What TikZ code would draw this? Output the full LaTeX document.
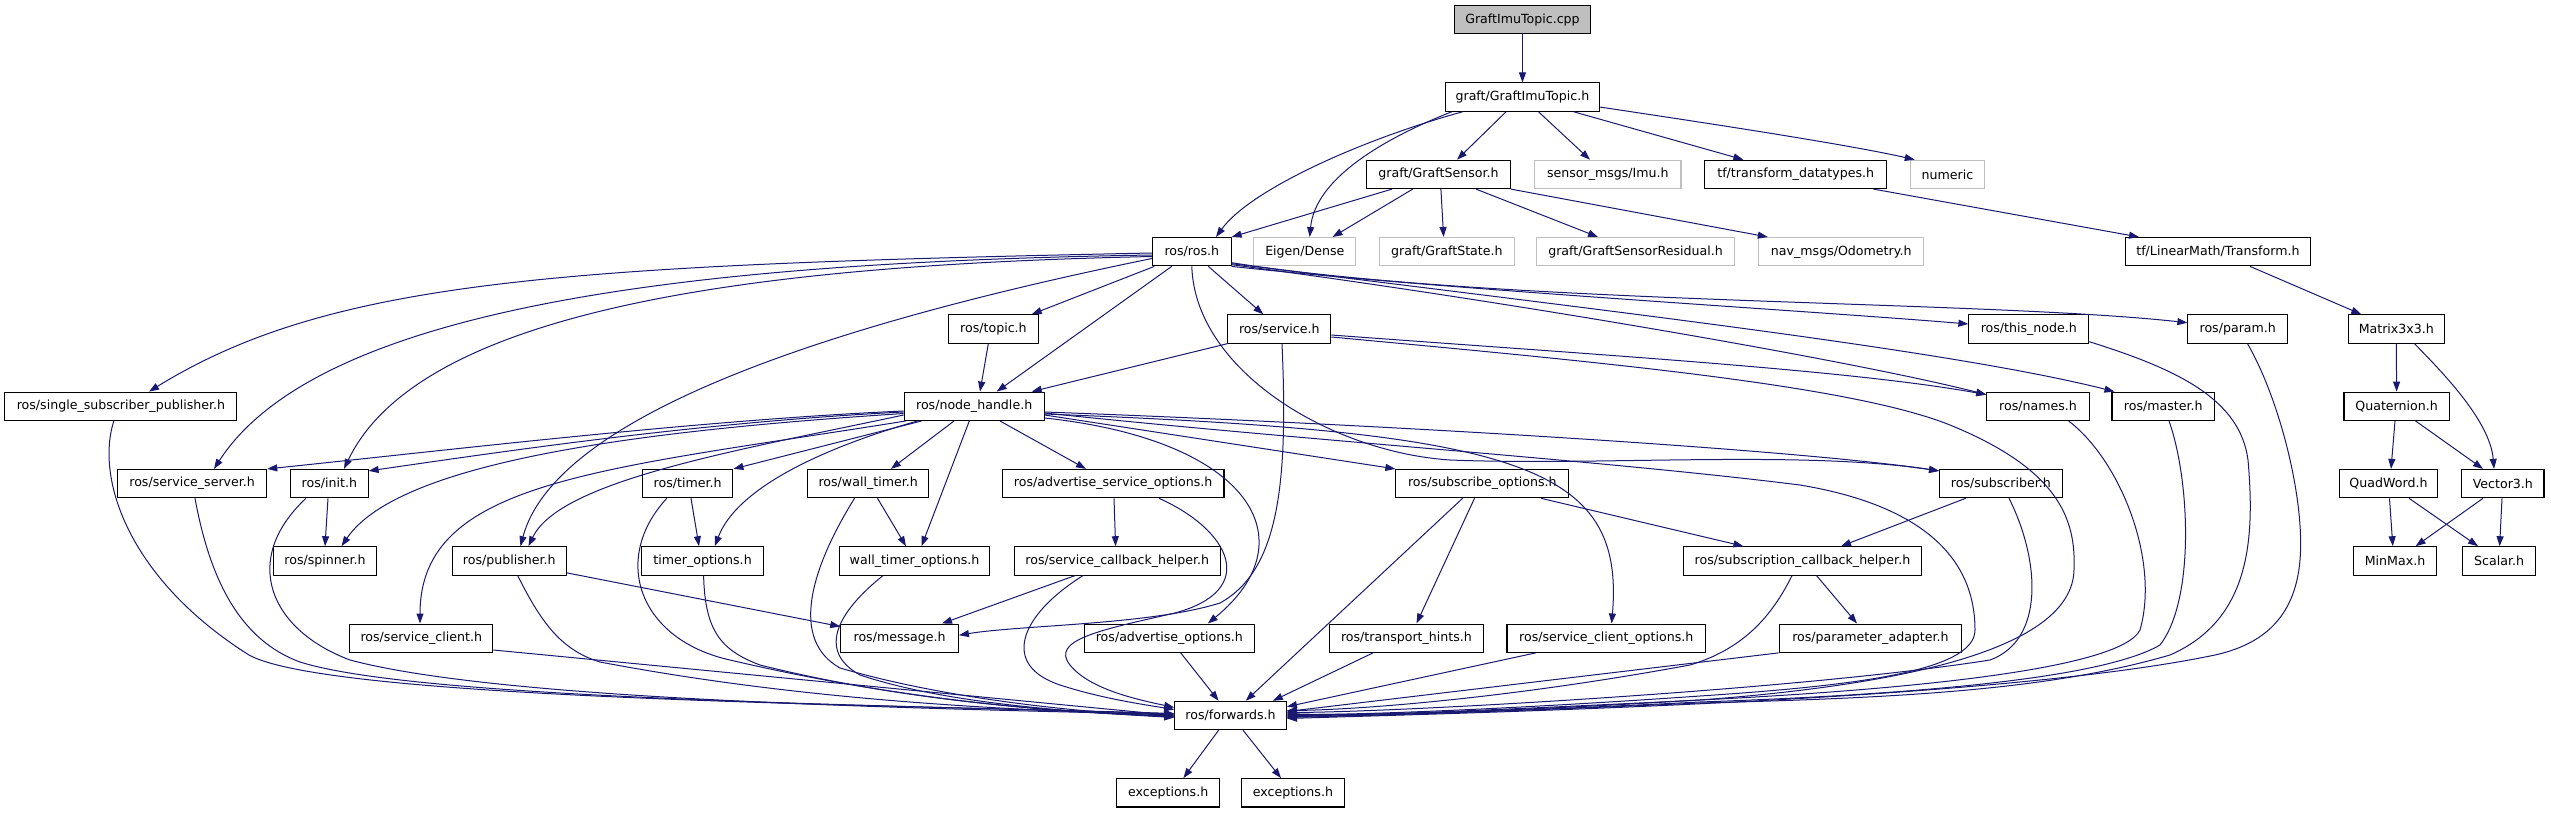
\documentclass[tikz,border=0pt]{standalone}
\usepackage{fontspec}
\setmainfont{DejaVu Sans}
\usetikzlibrary{arrows.meta}
\definecolor{edgec}{HTML}{191970}
\definecolor{greyl}{HTML}{BFBFBF}
\begin{document}
\begin{tikzpicture}[x=1pt,y=-1pt,
 nb/.style={draw=black,line width=1.1pt,fill=white,minimum height=28.3pt,inner sep=0pt,font=\fontsize{12.6}{15}\selectfont},
 gb/.style={nb,draw=greyl},
 e/.style={draw=edgec,line width=1pt,-{Triangle[length=10pt,width=7pt]}}]
\useasboundingbox[fill=white] (0,0) rectangle (2551,813);
% row 0
\node[nb,fill=greyl,minimum width=136.1pt] (cpp) at (1522.45,19.8) {GraftImuTopic.cpp};
% row 1
\node[nb,minimum width=154.5pt] (gith) at (1522.45,97.1) {graft/GraftImuTopic.h};
% row 2
\node[nb,minimum width=143.7pt] (gs) at (1438.45,174.4) {graft/GraftSensor.h};
\node[gb,minimum width=146.3pt] (imu) at (1607.85,174.4) {sensor\_msgs/Imu.h};
\node[nb,minimum width=181.6pt] (tfd) at (1795.7,174.4) {tf/transform\_datatypes.h};
\node[gb,minimum width=74.3pt] (num) at (1947.45,174.4) {numeric};
% row 3
\node[nb,minimum width=78.6pt] (ros) at (1191.8,251.7) {ros/ros.h};
\node[gb,minimum width=101.9pt] (eig) at (1304.85,251.7) {Eigen/Dense};
\node[gb,minimum width=134.5pt] (gst) at (1446.85,251.7) {graft/GraftState.h};
\node[gb,minimum width=197.4pt] (gsr) at (1635.5,251.7) {graft/GraftSensorResidual.h};
\node[gb,minimum width=165.4pt] (odo) at (1841.2,251.7) {nav\_msgs/Odometry.h};
\node[nb,minimum width=184.9pt] (tfm) at (2217.95,251.7) {tf/LinearMath/Transform.h};
% row 4
\node[nb,minimum width=89.4pt] (topic) at (993.4,329.0) {ros/topic.h};
\node[nb,minimum width=103pt] (srv) at (1279.3,329.0) {ros/service.h};
\node[nb,minimum width=119.8pt] (thisn) at (2028.8,329.0) {ros/this\_node.h};
\node[nb,minimum width=99.7pt] (param) at (2237.75,329.0) {ros/param.h};
\node[nb,minimum width=96pt] (m33) at (2396.3,329.0) {Matrix3x3.h};
% row 5
\node[nb,minimum width=232pt] (ssp) at (120.9,406.3) {ros/single\_subscriber\_publisher.h};
\node[nb,minimum width=139.9pt] (nh) at (974.15,406.3) {ros/node\_handle.h};
\node[nb,minimum width=102.4pt] (names) at (2038,406.3) {ros/names.h};
\node[nb,minimum width=102.5pt] (master) at (2163.25,406.3) {ros/master.h};
\node[nb,minimum width=105.2pt] (quat) at (2396.6,406.3) {Quaternion.h};
% row 6
\node[nb,minimum width=149.1pt] (ssrv) at (192.15,483.6) {ros/service\_server.h};
\node[nb,minimum width=77.5pt] (init) at (329.35,483.6) {ros/init.h};
\node[nb,minimum width=90.5pt] (timer) at (687.65,483.6) {ros/timer.h};
\node[nb,minimum width=120.9pt] (wtimer) at (868.15,483.6) {ros/wall\_timer.h};
\node[nb,minimum width=221.7pt] (aso) at (1113.15,483.6) {ros/advertise\_service\_options.h};
\node[nb,minimum width=172.9pt] (subo) at (1482.35,483.6) {ros/subscribe\_options.h};
\node[nb,minimum width=122.5pt] (sub) at (2000.85,483.6) {ros/subscriber.h};
\node[nb,minimum width=98.7pt] (qw) at (2388.45,483.6) {QuadWord.h};
\node[nb,minimum width=82.3pt] (v3) at (2502.85,483.6) {Vector3.h};
% row 7
\node[nb,minimum width=103.6pt] (spin) at (325,560.9) {ros/spinner.h};
\node[nb,minimum width=114.4pt] (pub) at (509.3,560.9) {ros/publisher.h};
\node[nb,minimum width=122.5pt] (topt) at (702.55,560.9) {timer\_options.h};
\node[nb,minimum width=150.7pt] (wtopt) at (914.55,560.9) {wall\_timer\_options.h};
\node[nb,minimum width=206pt] (sch) at (1117.3,560.9) {ros/service\_callback\_helper.h};
\node[nb,minimum width=238.5pt] (subch) at (1802.45,560.9) {ros/subscription\_callback\_helper.h};
\node[nb,minimum width=82.4pt] (minmax) at (2395,560.9) {MinMax.h};
\node[nb,minimum width=72.7pt] (scalar) at (2499.05,560.9) {Scalar.h};
% row 8
\node[nb,minimum width=143.1pt] (sc) at (421.25,638.2) {ros/service\_client.h};
\node[nb,minimum width=117.6pt] (msg) at (899.6,638.2) {ros/message.h};
\node[nb,minimum width=170.2pt] (ao) at (1169.3,638.2) {ros/advertise\_options.h};
\node[nb,minimum width=154.5pt] (th) at (1406.45,638.2) {ros/transport\_hints.h};
\node[nb,minimum width=198.4pt] (sco) at (1606.2,638.2) {ros/service\_client\_options.h};
\node[nb,minimum width=182.7pt] (pa) at (1870.45,638.2) {ros/parameter\_adapter.h};
% row 9
\node[nb,minimum width=111.7pt] (fwd) at (1230.55,715.5) {ros/forwards.h};
% row 10
\node[nb,minimum width=103pt] (exc1) at (1168.2,792.8) {exceptions.h};
\node[nb,minimum width=103pt] (exc2) at (1292.9,792.8) {exceptions.h};

% ---- edges: top part
\draw[e] (cpp) -- (gith);
\draw[e] ([xshift=-59.9pt]gith.south) .. controls (1360,140) and (1250,190) .. ([xshift=24.2pt]ros.north);
\draw[e] ([xshift=-70.75pt]gith.south) .. controls (1380,140) and (1315,180) .. ([xshift=4.85pt]eig.north);
\draw[e] ([xshift=-16.45pt]gith.south) -- ([xshift=18.55pt]gs.north);
\draw[e] ([xshift=16.05pt]gith.south) -- ([xshift=-17.85pt]imu.north);
\draw[e] ([xshift=51.25pt]gith.south) -- ([xshift=-52.3pt]tfd.north);
\draw[e] ([yshift=-10pt]gith.east) .. controls (1720,125) and (1850,145) .. ([xshift=5pt]num.north west);
\draw[e] ([xshift=-46.45pt]gs.south) -- (ros.north east);
\draw[e] ([xshift=-25.75pt]gs.south) -- ([xshift=27.65pt]eig.north);
\draw[e] ([xshift=2.45pt]gs.south) -- ([xshift=-3.25pt]gst.north);
\draw[e] ([xshift=37.55pt]gs.south) -- ([xshift=-37.5pt]gsr.north);
\draw[e] (gs.south east) -- ([xshift=-73.4pt]odo.north);
\draw[e] ([xshift=77.8pt]tfd.south) -- ([xshift=-78.95pt]tfm.north);
\draw[e] ([xshift=32.05pt]tfm.south) -- ([xshift=-35pt]m33.north);
\draw[e] (m33.south) -- (quat.north);
\draw[e] ([xshift=18.2pt]m33.south) .. controls (2440,370) and (2490,420) .. ([xshift=-8.85pt]v3.north);
\draw[e] ([xshift=-1.6pt]quat.south) -- ([xshift=2.55pt]qw.north);
\draw[e] ([xshift=19pt]quat.south) -- ([xshift=-19.85pt]v3.north);
\draw[e] ([xshift=1.05pt]qw.south) -- ([xshift=-2.2pt]minmax.north);
\draw[e] ([xshift=20.55pt]qw.south) -- ([xshift=-21.05pt]scalar.north);
\draw[e] ([xshift=-19.85pt]v3.south) -- ([xshift=20.6pt]minmax.north);
\draw[e] ([xshift=-0.85pt]v3.south) -- ([xshift=0.55pt]scalar.north);

% ---- ros.h
\draw[e] ([yshift=-1.3pt]ros.west) .. controls (560,265) and (330,280) .. ([xshift=28.1pt]ssp.north);
\draw[e] ([yshift=-3.3pt]ros.west) .. controls (700,262) and (320,305) .. ([xshift=21.85pt]ssrv.north);
\draw[e] ([yshift=-4.8pt]ros.west) .. controls (750,265) and (420,310) .. ([xshift=14.65pt]init.north);
\draw[e] ([yshift=-6.8pt]ros.west) .. controls (900,310) and (560,400) .. ([xshift=11.1pt]pub.north);
\draw[e] ([xshift=-37.5pt]ros.south) -- ([xshift=38.3pt]topic.north);
\draw[e] ([xshift=-20.1pt]ros.south) -- ([xshift=22.55pt]nh.north);
\draw[e] ([xshift=16.5pt]ros.south) -- ([xshift=-16pt]srv.north);
\draw[e] (ros.south) .. controls (1195,370) and (1330,452) .. (1450,460) .. controls (1600,466) and (1800,450) .. ([yshift=-2pt]sub.north west);
\draw[e] (ros.south east) .. controls (1450,290) and (1800,310) .. ([yshift=5pt]thisn.west);
\draw[e] ([yshift=-11pt]ros.east) .. controls (1500,305) and (1980,300) .. ([yshift=6.3pt]param.west);
\draw[e] ([yshift=-12pt]ros.east) .. controls (1600,310) and (1950,350) .. ([xshift=3pt]master.north west);
\draw[e] ([yshift=-13pt]ros.east) .. controls (1500,300) and (1850,360) .. ([yshift=-3pt]names.north west);

% ---- service.h
\draw[e] (srv.south west) -- ([xshift=57.55pt]nh.north);
\draw[e] ([xshift=2.7pt]srv.south) .. controls (1288,480) and (1280,570) .. (1220,603) .. controls (1150,625) and (1020,625) .. ([yshift=3pt]msg.east);
\draw[e] ([yshift=-6pt]srv.east) .. controls (1600,355) and (1850,370) .. ([yshift=-3pt]names.north west);
\draw[e] ([yshift=-8pt]srv.east) .. controls (1600,362) and (1850,385) .. (1950,425) .. controls (2060,470) and (2076,520) .. (2074,570) .. controls (2072,650) and (1900,685) .. (1700,700) .. controls (1500,712) and (1350,716) .. ([yshift=2pt]fwd.east);

% ---- node_handle.h
\draw[e] ([xshift=-52.65pt]nh.south) -- (timer.north east);
\draw[e] ([xshift=-56.55pt]nh.south) .. controls (850,440) and (740,480) .. ([xshift=12.25pt]topt.north);
\draw[e] ([xshift=-20.15pt]nh.south) -- ([xshift=22.75pt]wtimer.north);
\draw[e] ([xshift=-4.85pt]nh.south) -- ([xshift=6.95pt]wtopt.north);
\draw[e] ([xshift=25.85pt]nh.south) -- ([xshift=-27.15pt]aso.north);
\draw[e] ([yshift=-4.7pt]nh.west) .. controls (700,420) and (450,450) .. (ssrv.north east);
\draw[e] ([yshift=-5.7pt]nh.west) .. controls (700,422) and (500,452) .. ([yshift=-2pt]init.north east);
\draw[e] ([yshift=-7.2pt]nh.west) .. controls (650,430) and (400,460) .. ([xshift=16.5pt]spin.north);
\draw[e] ([yshift=-8.7pt]nh.west) .. controls (740,450) and (560,480) .. ([xshift=19.2pt]pub.north);
\draw[e] ([xshift=2pt]nh.south west) .. controls (600,470) and (420,480) .. ([xshift=-1.25pt]sc.north);
\draw[e] ([yshift=-8.7pt]nh.east) -- (subo.north west);
\draw[e] ([yshift=-11.7pt]nh.east) .. controls (1250,440) and (1310,540) .. ([xshift=38.5pt]ao.north);
\draw[e] ([yshift=-7.7pt]nh.east) .. controls (1520,432) and (1625,465) .. ([xshift=5.4pt]sco.north);
\draw[e] ([yshift=-5.7pt]nh.east) .. controls (1400,425) and (1800,450) .. ([yshift=-2pt]sub.north west);
\draw[e] ([yshift=-6.7pt]nh.east) .. controls (1300,440) and (1600,460) .. (1800,485) .. controls (1950,510) and (1975,580) .. (1975,630) .. controls (1975,672) and (1850,686) .. (1700,696) .. controls (1500,710) and (1350,715) .. ([yshift=1pt]fwd.east);

% ---- into forwards.h from the left
\draw[e] ([xshift=-7.1pt]ssp.south) .. controls (95,480) and (130,580) .. (249,655) .. controls (330,700) and (900,705) .. ([yshift=2pt]fwd.west);
\draw[e] ([xshift=2.85pt]ssrv.south) .. controls (210,580) and (240,640) .. (300,662) .. controls (420,700) and (900,705) .. ([yshift=1.5pt]fwd.west);
\draw[e] ([xshift=-23.35pt]init.south) .. controls (240,560) and (270,630) .. (350,660) .. controls (500,700) and (900,708) .. ([yshift=1pt]fwd.west);
\draw[e] ([xshift=8.4pt]pub.south) .. controls (540,620) and (560,650) .. (600,662) .. controls (800,700) and (1000,710) .. ([yshift=0.5pt]fwd.west);
\draw[e] ([yshift=-11.8pt]sc.east) -- (fwd.west);
\draw[e] ([xshift=-20.85pt]timer.south) .. controls (610,560) and (640,640) .. (730,660) .. controls (900,700) and (1050,712) .. ([yshift=-0.5pt]fwd.west);
\draw[e] ([xshift=1.05pt]topt.south) .. controls (705,630) and (720,650) .. (760,665) .. controls (900,700) and (1050,712) .. ([yshift=-1pt]fwd.west);
\draw[e] ([xshift=-13.65pt]wtimer.south) .. controls (810,570) and (790,640) .. (840,668) .. controls (950,700) and (1080,712) .. ([yshift=-1.5pt]fwd.west);
\draw[e] ([xshift=-31.55pt]wtopt.south) .. controls (840,610) and (815,650) .. (860,675) .. controls (950,705) and (1080,712) .. ([yshift=-2pt]fwd.west);
\draw[e] ([xshift=-34.3pt]sch.south) .. controls (1020,615) and (1000,665) .. (1060,685) .. controls (1100,698) and (1140,704) .. ([yshift=6pt]fwd.west);
\draw[e] ([xshift=45.85pt]aso.south) .. controls (1230,530) and (1260,590) .. (1175,613) .. controls (1100,630) and (1050,640) .. (1070,665) .. controls (1090,690) and (1140,700) .. ([yshift=8pt]fwd.west);

% ---- into forwards.h from top and right
\draw[e] ([xshift=11.4pt]ao.south) -- ([xshift=-11.95pt]fwd.north);
\draw[e] ([xshift=-19.75pt]subo.south) -- ([xshift=15.15pt]fwd.north);
\draw[e] ([xshift=-33.45pt]th.south) -- ([xshift=42.25pt]fwd.north);
\draw[e] ([xshift=-70.5pt]sco.south) -- ([yshift=8.8pt]fwd.east);
\draw[e] ([xshift=-10.45pt]subch.south) .. controls (1770,620) and (1740,650) .. (1690,665) .. controls (1500,700) and (1350,710) .. ([yshift=5pt]fwd.east);
\draw[e] (pa.south west) -- ([yshift=4pt]fwd.east);
\draw[e] ([xshift=8.15pt]sub.south) .. controls (2040,560) and (2045,640) .. (1990,660) .. controls (1800,690) and (1400,712) .. ([yshift=3pt]fwd.east);
\draw[e] ([xshift=30.6pt]names.south) .. controls (2120,460) and (2160,560) .. (2140,630) .. controls (2120,670) and (1900,690) .. (1700,700) .. controls (1500,710) and (1350,716) .. (fwd.east);
\draw[e] ([xshift=5.75pt]master.south) .. controls (2190,480) and (2195,600) .. (2160,645) .. controls (2100,680) and (1900,695) .. (1700,702) .. controls (1500,712) and (1350,716) .. ([yshift=-1pt]fwd.east);
\draw[e] ([yshift=-12.7pt]thisn.east) .. controls (2180,370) and (2240,400) .. (2248,460) .. controls (2255,540) and (2250,620) .. (2170,655) .. controls (2050,690) and (1900,698) .. (1700,703) .. controls (1500,712) and (1350,716) .. ([yshift=-2pt]fwd.east);
\draw[e] ([xshift=9.75pt]param.south) .. controls (2280,400) and (2305,500) .. (2300,560) .. controls (2295,620) and (2260,645) .. (2215,655) .. controls (2000,700) and (1500,712) .. ([yshift=-3pt]fwd.east);

% ---- remaining
\draw[e] ([xshift=-5.1pt]topic.south) -- ([xshift=5.85pt]nh.north);
\draw[e] ([xshift=-35.25pt]sub.south) -- ([xshift=38.55pt]subch.north);
\draw[e] ([xshift=58.65pt]subo.south) -- ([xshift=-59.05pt]subch.north);
\draw[e] ([xshift=-7.85pt]subo.south) -- ([xshift=10.05pt]th.north);
\draw[e] ([xshift=14.05pt]subch.south) -- ([xshift=-13.45pt]pa.north);
\draw[e] ([xshift=0.85pt]aso.south) -- ([xshift=-1.7pt]sch.north);
\draw[e] ([xshift=3.35pt]timer.south) -- ([xshift=-3.55pt]topt.north);
\draw[e] ([xshift=9.35pt]wtimer.south) -- ([xshift=-8.55pt]wtopt.north);
\draw[e] ([xshift=-1.35pt]init.south) -- (spin.north);
\draw[e] ([yshift=-12pt]pub.east) -- ([yshift=-3pt]msg.north west);
\draw[e] ([xshift=-42.3pt]sch.south) -- ([xshift=42.4pt]msg.north);
\draw[e] ([xshift=-11.95pt]fwd.south) -- ([xshift=15.2pt]exc1.north);
\draw[e] ([xshift=12.45pt]fwd.south) -- ([xshift=-11.9pt]exc2.north);
\end{tikzpicture}
\end{document}
